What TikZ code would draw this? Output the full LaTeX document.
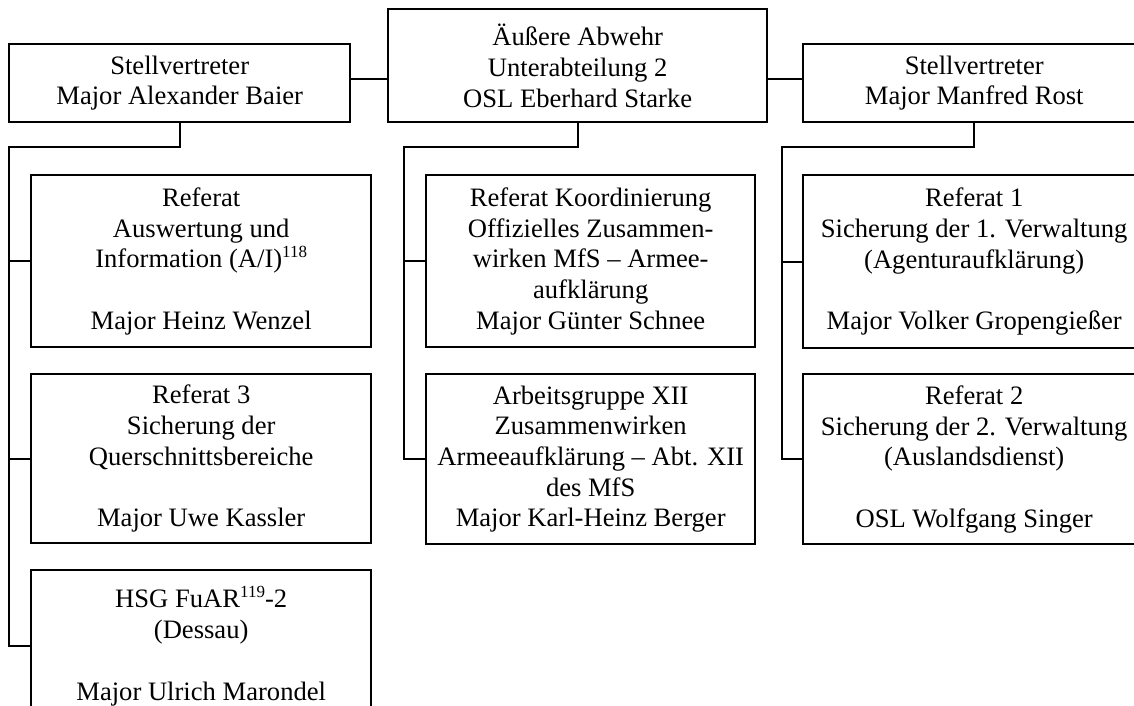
\documentclass[tikz,border=0pt]{standalone}
\usepackage{fontspec}
\setmainfont{Liberation Serif}
\newcommand{\supnum}[1]{\raisebox{10pt}{\fontsize{17}{17}\selectfont #1}}
\begin{document}
\begin{tikzpicture}[x=1pt,y=-1pt,
  box/.style={draw, line width=2.4pt, inner sep=0pt, align=center, anchor=north west,
    font=\fontsize{26.6}{30.7}\selectfont},
  conn/.style={line width=2.4pt}]
\clip (0,0) rectangle (1134,706);
\fill[white] (0,0) rectangle (1134,706);
% top row
\node[box, minimum width=341pt, minimum height=78pt] (lb) at (8,43) {Stellvertreter\\Major Alexander Baier};
\node[box, minimum width=379pt, minimum height=113pt] (cb) at (387,8) {Äußere Abwehr\\Unterabteilung 2\\OSL Eberhard Starke};
\node[box, minimum width=342pt, minimum height=78pt] (rb) at (802,43) {Stellvertreter\\Major Manfred Rost};
% left column
\node[box, minimum width=340pt, minimum height=172pt] (ra) at (30,174) {Referat\\Auswertung und\\Information (A/I)\supnum{118}\\\mbox{}\\Major Heinz Wenzel};
\node[box, minimum width=340pt, minimum height=169pt] (r3) at (30,373) {Referat 3\\Sicherung der\\Querschnittsbereiche\\\mbox{}\\Major Uwe Kassler};
\node[box, minimum width=340pt, minimum height=152pt] (hsg) at (30,569) {HSG FuAR\supnum{119}-2\\(Dessau)\\\mbox{}\\Major Ulrich Marondel};
% middle column
\node[box, minimum width=329pt, minimum height=172pt] (rk) at (425,174) {Referat Koordinierung\\Offizielles Zusammen-\\wirken MfS – Armee-\\aufklärung\\Major Günter Schnee};
\node[box, minimum width=329pt, minimum height=170pt] (ag) at (425,373) {Arbeitsgruppe XII\\Zusammenwirken\\Armeeaufklärung – Abt. XII\\des MfS\\Major Karl-Heinz Berger};
% right column
\node[box, minimum width=342pt, minimum height=173pt] (r1) at (802,174) {Referat 1\\Sicherung der 1. Verwaltung\\(Agenturaufklärung)\\\mbox{}\\Major Volker Gropengießer};
\node[box, minimum width=342pt, minimum height=170pt] (r2) at (802,373) {Referat 2\\Sicherung der 2. Verwaltung\\(Auslandsdienst)\\\mbox{}\\OSL Wolfgang Singer};
% junctions
\coordinate (lj) at (9,147);
\coordinate (mj) at (404,147);
\coordinate (rj) at (782,147);
% top connectors
\draw[conn] ([yshift=4pt]lb.east) -- ([yshift=4pt]lb.east -| cb.west);
\draw[conn] ([yshift=4pt]rb.west -| cb.east) -- ([yshift=4pt]rb.west);
% left tree
\draw[conn] (lb.south) |- (lj) -- (lj |- hsg.west) -- (hsg.west);
\draw[conn] (lj |- ra.west) -- (ra.west);
\draw[conn] (lj |- r3.west) -- (r3.west);
% middle tree
\draw[conn] (cb.south) |- (mj) -- (mj |- ag.west) -- (ag.west);
\draw[conn] (mj |- rk.west) -- (rk.west);
% right tree
\draw[conn] (rb.south) |- (rj) -- (rj |- r2.west) -- (r2.west);
\draw[conn] (rj |- r1.west) -- (r1.west);
\end{tikzpicture}
\end{document}
